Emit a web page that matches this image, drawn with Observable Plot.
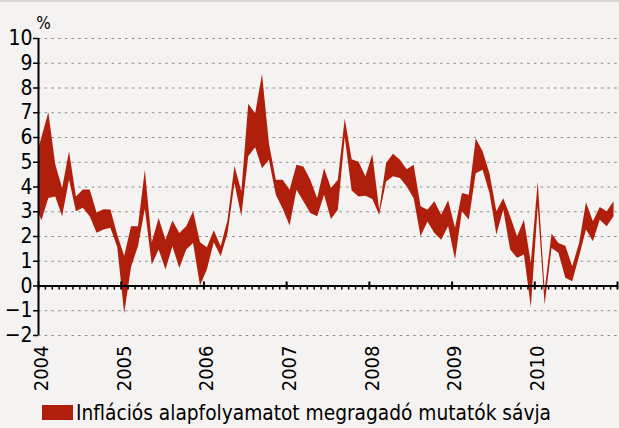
<!DOCTYPE html>
<html><head><meta charset="utf-8">
<script src="https://cdn.jsdelivr.net/npm/d3@7"></script>
<script src="https://cdn.jsdelivr.net/npm/@observablehq/plot@0.6"></script>
<style>
html,body{margin:0;padding:0;background:#f5f3f1;}
#wrap{width:619px;height:428px;border-top:2px solid #d9d6d3;box-sizing:border-box;font-family:"DejaVu Sans Condensed","DejaVu Sans",sans-serif;font-stretch:condensed;}
#legend{display:flex;align-items:center;height:31px;padding-left:42px;font-size:20.7px;color:#000;}
#legend .sw{display:inline-block;width:31px;height:15px;background:#b01f0b;margin-right:3px;}
</style></head><body>
<div id="wrap"><div id="chart"></div>
<div id="legend"><span class="sw"></span><span>Inflációs alapfolyamatot megragadó mutatók sávja</span></div></div>
<script>
const months = [
 "2003-12",
 "2004-01","2004-02","2004-03","2004-04","2004-05","2004-06","2004-07","2004-08","2004-09","2004-10","2004-11","2004-12",
 "2005-01","2005-02","2005-03","2005-04","2005-05","2005-06","2005-07","2005-08","2005-09","2005-10","2005-11","2005-12",
 "2006-01","2006-02","2006-03","2006-04","2006-05","2006-06","2006-07","2006-08","2006-09","2006-10","2006-11","2006-12",
 "2007-01","2007-02","2007-03","2007-04","2007-05","2007-06","2007-07","2007-08","2007-09","2007-10","2007-11","2007-12",
 "2008-01","2008-02","2008-03","2008-04","2008-05","2008-06","2008-07","2008-08","2008-09","2008-10","2008-11","2008-12",
 "2009-01","2009-02","2009-03","2009-04","2009-05","2009-06","2009-07","2009-08","2009-09","2009-10","2009-11","2009-12",
 "2010-01","2010-02","2010-03","2010-04","2010-05","2010-06","2010-07","2010-08","2010-09","2010-10","2010-11","2010-12"
];
const lower = [
 3.26,
 2.64, 3.54, 3.6, 2.8, 4.28, 3.0, 3.14, 2.8, 2.13, 2.26, 2.33, 1.55,
 -1.12, 0.75, 1.59, 3.1, 0.85, 1.45, 0.65, 1.59, 0.71, 1.45, 1.72, 0.0,
 0.65, 1.75, 1.18, 2.12, 4.14, 2.8, 5.22, 5.59, 4.74, 5.08, 3.67, 3.1,
 2.42, 3.87, 3.4, 2.93, 2.8, 3.67, 2.69, 3.06, 6.0, 3.84, 3.6, 3.63,
 3.5, 2.86, 4.2, 4.41, 4.34, 4.0, 3.53, 1.99, 2.59, 2.12, 1.85, 2.4,
 1.05, 3.0, 2.66, 4.54, 4.68, 3.74, 2.06, 3.06, 1.45, 1.12, 1.25, -0.88,
 3.2, -0.77, 1.52, 1.32, 0.31, 0.17, 1.18, 2.26, 1.79, 2.66, 2.39, 2.8
];
const upper = [
 5.0,
 6.0, 7.0, 4.9, 3.94, 5.42, 3.6, 3.88, 3.88, 2.95, 3.08, 3.07, 2.05,
 1.2, 2.39, 2.39, 4.68, 1.75, 2.73, 1.85, 2.63, 2.12, 2.39, 3.0, 1.75,
 1.55, 2.23, 1.59, 2.66, 4.84, 3.8, 7.34, 6.96, 8.55, 5.75, 4.27, 4.27,
 3.87, 4.88, 4.81, 4.27, 3.53, 4.74, 3.94, 4.27, 6.75, 5.1, 5.0, 4.41,
 5.3, 3.06, 4.95, 5.32, 5.08, 4.7, 4.88, 3.2, 3.06, 3.4, 2.86, 3.44,
 2.33, 3.74, 3.67, 5.95, 5.42, 4.54, 3.0, 3.53, 2.8, 1.99, 2.66, 0.91,
 4.2, -0.2, 2.1, 1.72, 1.61, 0.78, 1.72, 3.36, 2.6, 3.17, 3.0, 3.4
];
const yearLabels = [2004, 2005, 2006, 2007, 2008, 2009, 2010];
const yTicks = [-2, -1, 0, 1, 2, 3, 4, 5, 6, 7, 8, 9, 10];
const xDomain = [2004, 2011];

const toX = s => { const [y, m] = s.split("-").map(Number); return y + (m - 1 + 0.5) / 12; };
const data = months.map((m, i) => ({t: toX(m), lo: lower[i], hi: upper[i]}));
const yearTicks = d3.range(xDomain[0], xDomain[1] + 1);
const monthTicks = d3.range(xDomain[0] * 12, xDomain[1] * 12 + 1).map(k => k / 12).filter(v => !Number.isInteger(v));

const FONT = '"DejaVu Sans Condensed","DejaVu Sans",sans-serif';
const chart = Plot.plot({
  width: 619, height: 395,
  marginLeft: 38, marginRight: 2, marginTop: 36, marginBottom: 62,
  style: {background: "transparent", fontFamily: FONT, color: "#000", overflow: "visible"},
  x: {type: "linear", domain: xDomain},
  y: {domain: [-2, 10]},
  marks: [
    Plot.gridY(yTicks.filter(d => d !== 0), {stroke: "#8a8a8a", strokeOpacity: 1, strokeDasharray: "2.5,4.2", strokeWidth: 1.2}),
    Plot.areaY(data, {x: "t", y1: "lo", y2: "hi", fill: "#b01f0b", clip: true}),
    Plot.ruleY([0], {stroke: "#000", strokeWidth: 2}),
    Plot.ruleX(monthTicks, {y1: 0, y2: 0, insetBottom: -4, stroke: "#000", strokeWidth: 1.5}),
    Plot.ruleX(yearTicks, {y1: 0, y2: 0, insetTop: -4, insetBottom: -4, stroke: "#000", strokeWidth: 2}),
    Plot.ruleX([xDomain[0]], {stroke: "#000", strokeWidth: 2}),
    Plot.axisY({ticks: yTicks, tickSize: 5, tickPadding: 1, fontSize: 21, label: null, stroke: "#000", strokeWidth: 1.5}),
    Plot.axisX({ticks: yearLabels, tickSize: 0, tickRotate: -90, tickPadding: 10, fontSize: 20, dx: 3, label: null, tickFormat: d => String(d)}),
    Plot.text(["%"], {x: xDomain[0], y: 10, dx: 5, dy: -15, fontSize: 17, fill: "#000"})
  ]
});
document.getElementById("chart").append(chart);
</script>
</body></html>
